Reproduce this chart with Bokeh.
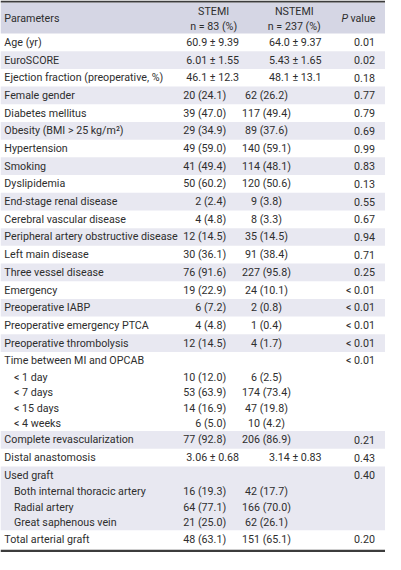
from bokeh.plotting import figure
from bokeh.models import Range1d, ColumnDataSource
from bokeh.core.properties import value
from bokeh.embed import file_html
from bokeh.resources import INLINE

# ---------------- data ----------------
header_params = "Parameters"
header_groups = ["STEMI", "NSTEMI"]
header_ns = ["n = 83 (%)", "n = 237 (%)"]
header_p = ["P", "value"]

params = [
    "Age (yr)", "EuroSCORE", "Ejection fraction (preoperative, %)", "Female gender",
    "Diabetes mellitus", "Obesity (BMI > 25 kg/m²)", "Hypertension", "Smoking",
    "Dyslipidemia", "End-stage renal disease", "Cerebral vascular disease",
    "Peripheral artery obstructive disease", "Left main disease", "Three vessel disease",
    "Emergency", "Preoperative IABP", "Preoperative emergency PTCA",
    "Preoperative thrombolysis", "Time between MI and OPCAB", "< 1 day", "< 7 days",
    "< 15 days", "< 4 weeks", "Complete revascularization", "Distal anastomosis",
    "Used graft", "Both internal thoracic artery", "Radial artery",
    "Great saphenous vein", "Total arterial graft",
]
level = [0] * 19 + [1, 1, 1, 1] + [0, 0, 0] + [1, 1, 1] + [0]
stemi = [
    "60.9 ± 9.39", "6.01 ± 1.55", "46.1 ± 12.3", "20 (24.1)", "39 (47.0)", "29 (34.9)",
    "49 (59.0)", "41 (49.4)", "50 (60.2)", "2 (2.4)", "4 (4.8)", "12 (14.5)", "30 (36.1)",
    "76 (91.6)", "19 (22.9)", "6 (7.2)", "4 (4.8)", "12 (14.5)", "", "10 (12.0)",
    "53 (63.9)", "14 (16.9)", "6 (5.0)", "77 (92.8)", "3.06 ± 0.68", "", "16 (19.3)",
    "64 (77.1)", "21 (25.0)", "48 (63.1)",
]
nstemi = [
    "64.0 ± 9.37", "5.43 ± 1.65", "48.1 ± 13.1", "62 (26.2)", "117 (49.4)", "89 (37.6)",
    "140 (59.1)", "114 (48.1)", "120 (50.6)", "9 (3.8)", "8 (3.3)", "35 (14.5)",
    "91 (38.4)", "227 (95.8)", "24 (10.1)", "2 (0.8)", "1 (0.4)", "4 (1.7)", "",
    "6 (2.5)", "174 (73.4)", "47 (19.8)", "10 (4.2)", "206 (86.9)", "3.14 ± 0.83", "",
    "42 (17.7)", "166 (70.0)", "62 (26.1)", "151 (65.1)",
]
pvalue = [
    "0.01", "0.02", "0.18", "0.77", "0.79", "0.69", "0.99", "0.83", "0.13", "0.55",
    "0.67", "0.94", "0.71", "0.25", "< 0.01", "< 0.01", "< 0.01", "< 0.01", "< 0.01",
    "", "", "", "", "0.21", "0.43", "0.40", "", "", "", "0.20",
]

# ---------------- layout ----------------
W, H = 401, 570
HEAD_TOP, HEAD_BOT = 2, 34
H1, H2 = 18.2, 15.8
FONT = value("Roboto")
FS = "10.7px"
TXT = "#2e2e2e"
HEAD_BG = "#d5d6e4"
BAND_BG = "#e8e8f1"

p = figure(width=385, height=554, output_backend="svg", toolbar_location=None,
           x_range=Range1d(0, W), y_range=Range1d(H, 0), min_border=0)
p.axis.visible = False
p.grid.visible = False
p.outline_line_color = None
p.background_fill_color = "white"
p.border_fill_color = "white"

# row geometry
tops, bots, ys = [], [], []
y = HEAD_BOT
for lv in level:
    h = H1 if lv == 0 else H2
    tops.append(y)
    bots.append(y + h)
    ys.append(y + h / 2)
    y += h

# group bands (alternate groups shaded)
grp = []
g = -1
for lv in level:
    if lv == 0:
        g += 1
    grp.append(g)
band_t, band_b = [], []
for gi in range(g + 1):
    idx = [i for i in range(len(level)) if grp[i] == gi]
    if gi % 2 == 1:
        band_t.append(tops[idx[0]])
        band_b.append(bots[idx[-1]])
p.quad(left=0, right=W, top=band_t, bottom=band_b, fill_color=BAND_BG, line_color=None)

# header band and rules
p.quad(left=0, right=W, top=[HEAD_TOP], bottom=[HEAD_BOT], fill_color=HEAD_BG, line_color=None)
p.quad(left=0, right=W, top=[0], bottom=[HEAD_TOP], fill_color="#3c3c3c", line_color=None)
p.quad(left=0, right=W, top=[H - 5], bottom=[H - 2.5], fill_color="#3c3c3c", line_color=None)


def txt(xs, yv, texts, align, italic=False):
    src = ColumnDataSource(dict(x=xs, y=yv, t=texts))
    p.text(x="x", y="y", text="t", source=src, text_align=align, text_baseline="middle",
           text_font=FONT, text_font_size=FS, text_color=TXT,
           text_font_style="italic" if italic else "normal")


# header texts
txt([4], [18.5], [header_params], "left")
txt([222, 306], [11, 11], header_groups, "center")
txt([222, 306], [26.5, 26.5], header_ns, "center")
txt([362], [19], [header_p[0]], "right", italic=True)
txt([364.5], [19], [header_p[1]], "left")

# parameter column
txt([4 if lv == 0 else 14 for lv in level], ys, params, "left")

# STEMI column
sx_c, sy_c, st_c, sx_r, sy_r, st_r = [], [], [], [], [], []
for yv, s in zip(ys, stemi):
    if not s:
        continue
    if "±" in s:
        sx_c.append(221); sy_c.append(yv); st_c.append(s)
    else:
        sx_r.append(235); sy_r.append(yv); st_r.append(s)
txt(sx_c, sy_c, st_c, "center")
txt(sx_r, sy_r, st_r, "right")

# NSTEMI column
nx, ny, nt = [], [], []
for yv, s in zip(ys, nstemi):
    if not s:
        continue
    nx.append(307 if "±" in s else 277); ny.append(yv); nt.append(s)
txt(nx, ny, nt, "center")

# P value column
px_, py_, pt_ = [], [], []
for yv, s in zip(ys, pvalue):
    if s:
        px_.append(390); py_.append(yv); pt_.append(s)
txt(px_, py_, pt_, "right")

open("out.html", "w").write(file_html(p, INLINE))
